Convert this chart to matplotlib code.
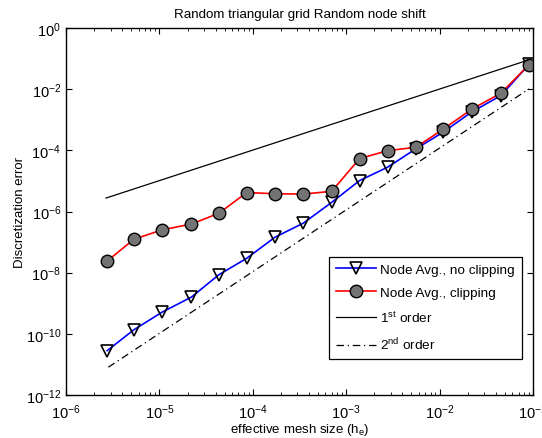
import matplotlib
matplotlib.use("Agg")
import matplotlib.pyplot as plt
from matplotlib.ticker import LogLocator, NullLocator

plt.rcParams['font.family'] = ['Liberation Sans', 'DejaVu Sans']
plt.rcParams['mathtext.fontset'] = 'custom'
plt.rcParams['mathtext.rm'] = 'Liberation Sans'
plt.rcParams['mathtext.it'] = 'Liberation Sans:italic'
plt.rcParams['mathtext.bf'] = 'Liberation Sans:bold'

# effective mesh size
h = [2.76e-6, 5.31e-6, 1.07e-5, 2.20e-5, 4.32e-5, 8.61e-5, 1.73e-4, 3.48e-4,
     7.00e-4, 1.39e-3, 2.78e-3, 5.58e-3, 1.10e-2, 2.22e-2, 4.54e-2, 9.06e-2]
# Node Avg., no clipping (log10 of error)
no_clip_log = [-10.55, -9.87, -9.29, -8.80, -8.07, -7.53, -6.84, -6.38,
               -5.70, -4.99, -4.55, -3.95, -3.40, -2.74, -2.21, -1.19]
# Node Avg., clipping (log10 of error)
clip_log = [-7.62, -6.91, -6.60, -6.41, -6.06, -5.38, -5.42, -5.43,
            -5.34, -4.27, -4.01, -3.90, -3.30, -2.65, -2.13, -1.20]
# reference lines: endpoints
first_x = [2.68e-6, 9.06e-2]
first_y = [2.75e-6, 9.1e-2]
second_x = [2.84e-6, 9.06e-2]
second_y = [8.1e-12, 1.02e-2]

no_clip = [10 ** v for v in no_clip_log]
clip = [10 ** v for v in clip_log]

fig = plt.figure(figsize=(5.42, 4.39), dpi=100)
ax = fig.add_axes([66 / 542, 1 - 396 / 439, 467 / 542, 367 / 439])

l1, = ax.loglog(h, no_clip, color=(0, 0, 1), lw=1.2, marker='v', ms=9,
                mfc='none', mec='black', mew=1.2, label='Node Avg., no clipping')
l2, = ax.loglog(h, clip, color=(1, 0, 0), lw=1.2, marker='o', ms=9,
                mfc=(0.45, 0.45, 0.45), mec='black', mew=1.0, label='Node Avg., clipping')
l3, = ax.loglog(first_x, first_y, color='black', lw=0.9, label='1$^{\\mathrm{st}}$ order')
l4, = ax.loglog(second_x, second_y, color='black', lw=0.9,
                dashes=(6, 3, 1, 3), label='2$^{\\mathrm{nd}}$ order')

ax.set_xlim(1e-6, 1e-1)
ax.set_ylim(1e-12, 1e0)
ax.xaxis.set_major_locator(LogLocator(base=10, numticks=20))
ax.xaxis.set_minor_locator(LogLocator(base=10, subs=range(2, 10), numticks=20))
ax.set_yticks([1e0, 1e-2, 1e-4, 1e-6, 1e-8, 1e-10, 1e-12])
ax.yaxis.set_minor_locator(NullLocator())

ax.tick_params(which='both', direction='in', top=True, right=True, labelsize=10.5)
ax.tick_params(axis='x', which='major', pad=5)
ax.tick_params(which='major', length=4, width=0.8)
ax.tick_params(which='minor', length=2, width=0.6)
for s in ax.spines.values():
    s.set_linewidth(1.0)

ax.set_title('Random triangular grid Random node shift', fontsize=9.6, pad=8)
ax.set_xlabel('effective mesh size (h$_{\\mathrm{e}}$)', fontsize=9.5, labelpad=0)
ax.set_ylabel('Discretization error', fontsize=9.5, labelpad=0)

leg = ax.legend(handles=[l1, l2, l3, l4], loc='lower right',
                bbox_to_anchor=(0.976, 0.098), borderaxespad=0, fontsize=9.7,
                fancybox=False, edgecolor='black', framealpha=1,
                handlelength=3.0, labelspacing=0.8, handletextpad=0.3,
                borderpad=0.5)
leg.get_frame().set_linewidth(0.9)

fig.savefig('out.png', dpi=100)
